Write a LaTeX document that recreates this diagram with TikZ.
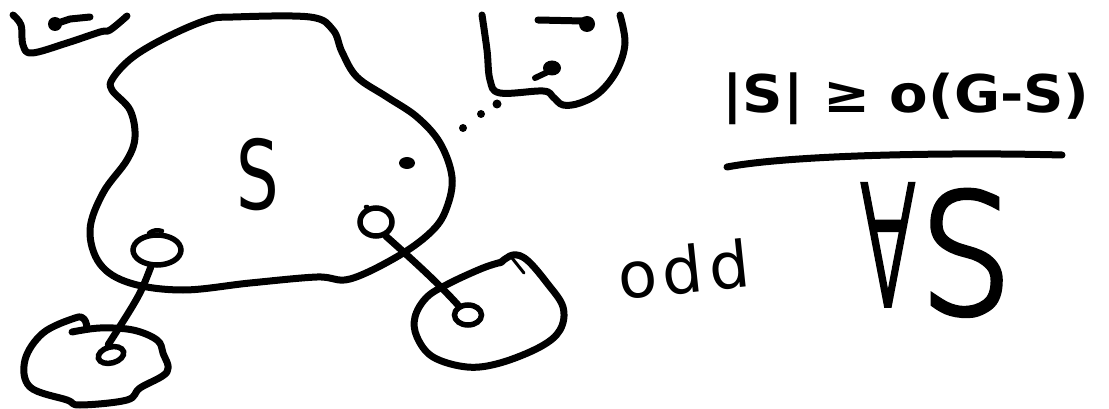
\documentclass[tikz,border=0pt]{standalone}
\usepackage{fontspec}
\setmainfont{DejaVu Sans}
\newfontfamily\xl[FakeBold=3.5]{DejaVu Sans ExtraLight}
\newfontfamily\bd{DejaVu Sans Bold}
\usetikzlibrary{shapes.geometric}
\tikzset{
  ink/.style={line width=7pt, line cap=round, line join=round},
  thinink/.style={line width=4.5pt, line cap=round, line join=round},
  loopnode/.style={draw, ellipse, line width=5.5pt, inner sep=0pt},
  txt/.style={anchor=base, inner sep=0pt},
}
\begin{document}
\begin{tikzpicture}[x=1pt,y=-1pt]
\useasboundingbox (0,0) rectangle (1109,409);
% main blob S
\draw[ink] plot[smooth cycle, tension=0.6] coordinates {(207,20) (233,17) (310,17) (333,30) (342,52) (357,77) (387,97) (417,117) (440,143) (452,177) (447,207) (433,230) (400,255) (350,279) (317,277) (250,283) (183,290) (130,283) (100,264) (90,230) (103,193) (127,160) (135,137) (130,110) (112,90) (113,78) (133,57) (167,37)};
% top-left squiggle
\draw[ink] plot[smooth, tension=0.6] coordinates {(13,15) (21,25) (23,45) (32,53) (67,43) (100,32) (110,30) (127,16)};
\fill (55,24) circle (7);
\draw[ink] (55,24) -- (70,19) -- (90,17);
% top-right blob
\draw[ink] plot[smooth, tension=0.6] coordinates {(482,15) (487,50) (490,80) (500,93) (543,91) (553,97) (563,105) (580,103) (600,92) (617,70) (625,43) (620,15)};
\draw[ink] (538,20) -- (583,21);
\fill (587,24) circle (8);
\fill (552,68) ellipse (9 and 7.5);
\draw[ink,line width=6pt] (552,70) -- (535,78);
% dotted trail
\fill (463,128) circle (4);
\fill (481,114) circle (4);
\fill (497,104) circle (4.5);
% dot inside S blob
\fill (407,163) ellipse (8 and 6);
% bottom-left blob
\draw[ink] plot[smooth, tension=0.6] coordinates {(87,327) (84,319) (75,318) (43,333) (25,360) (30,387) (67,400) (80,405) (127,400) (140,388) (167,372) (163,353) (157,340) (133,330) (100,328) (72,332)};
% bottom-right blob
\draw[ink] plot[smooth, tension=0.6] coordinates {(500,263) (513,255) (527,260) (547,283) (563,307) (560,330) (540,347) (500,363) (467,367) (433,357) (417,337) (415,317) (427,297) (450,283) (483,268) (502,262)};
\draw[ink,line width=3pt] (512,258) -- (524,273);
% small loops
\node[loopnode, minimum width=48pt, minimum height=30pt] (sL) at (157,250) {};
\node[loopnode, minimum width=26pt, minimum height=16pt, rotate=15] (oL) at (111,355) {};
\node[loopnode, minimum width=32pt, minimum height=28pt] (sR) at (376,222) {};
\node[loopnode, minimum width=27pt, minimum height=20pt] (oR) at (468,315) {};
\coordinate (tL) at (162,231);
\coordinate (tR) at (366,207);
\draw[thinink] (tL) to[bend right=25] (sL.115);
\draw[thinink] (tR) to[bend left=20] (sR.120);
% connectors
\draw[ink] (sL.250) .. controls (140,295) .. (oL.north);
\draw[ink] (sR.305) .. controls (415,262) and (440,285) .. (oR.135);
% texts
\node[txt] (Sin) at (258,210) {\fontsize{96}{100}\selectfont\scalebox{0.7}[1]{S}};
\node[txt] (ineq) at (906,113) {\bd\fontsize{52}{60}\selectfont\scalebox{1.08}[1]{|S| ≥ o(G-S)}};
\coordinate (u1) at (727,167);
\coordinate (u2) at (1062,155);
\draw[ink] (u1) .. controls (790,155) and (950,152) .. (u2);
\node[txt, rotate=6] (odd) at (686,293) {\fontsize{64}{66}\selectfont o\hspace{5pt}d\hspace{7pt}d};
\node[txt] (fa) at (888,305) {\xl\fontsize{165}{170}\selectfont\scalebox{0.5}[1]{∀}};
\node[txt] (S2) at (966,313) {\xl\fontsize{165}{170}\selectfont\scalebox{0.88}[1]{S}};
\end{tikzpicture}
\end{document}
